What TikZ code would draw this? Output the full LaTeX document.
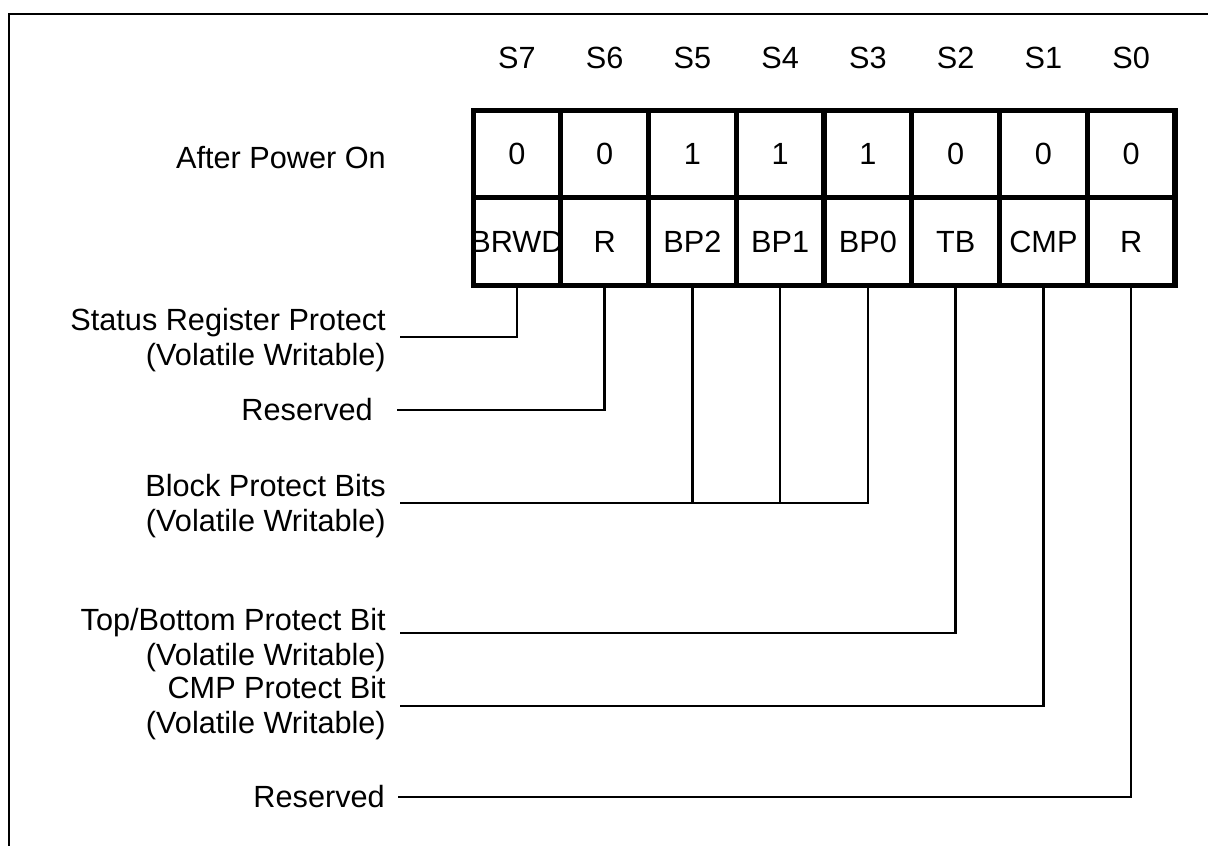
\documentclass[tikz,border=0pt]{standalone}
\usepackage{fontspec}
\setmainfont{Liberation Sans}
\usepackage{tikz}

\tikzset{
  bitcell/.style={draw, line width=3.8pt, minimum width=65.8pt, minimum height=65.8pt,
    inner sep=0pt, outer sep=0pt, font=\fontsize{23}{26}\selectfont},
  bitlabel/.style={font=\fontsize{23}{26}\selectfont, inner sep=0pt},
  desc/.style={font=\fontsize{23}{26}\selectfont, align=right, anchor=east, inner sep=0pt},
  link/.style={line width=1.9pt},
}

\begin{document}
\begin{tikzpicture}[x=0.75pt, y=-0.75pt]

\useasboundingbox (0,0) rectangle (1208,846);
\clip (0,0) rectangle (1208,846);
\draw [line width=2.2pt] (9,14) rectangle (1240,880);

% register cells
\foreach \val/\name [count=\i from 0] in {0/BRWD,0/R,1/BP2,1/BP1,1/BP0,0/TB,0/CMP,0/R} {
  \pgfmathtruncatemacro\bit{7-\i}
  \node[bitlabel] (s\bit) at ({516.9+87.75*\i},58) {S\bit};
  \node[bitcell] (v\bit) at ({516.9+87.75*\i},153.9) {\val};
  \node[bitcell] (n\bit) at ({516.9+87.75*\i},241.6) {\makebox[0pt]{\name}};
}

\node[desc] (pwr) at (386,158) {After Power On};
\node[desc] (srp) at (386,340) {Status Register Protect\\(Volatile Writable)};
\node[desc] (rsv6) at (373,410) {Reserved};
\node[desc] (bpb) at (386,506) {Block Protect Bits\\(Volatile Writable)};
\node[desc] (tbp) at (386,640) {Top/Bottom Protect Bit\\(Volatile Writable)};
\node[desc] (cmp) at (386,708) {CMP Protect Bit\\(Volatile Writable)};
\node[desc] (rsv0) at (385,797) {Reserved};

% connectors
\coordinate (c7) at (400,337);
\coordinate (c6) at (397,410);
\coordinate (c3) at (400,503);
\coordinate (c2) at (400,633);
\coordinate (c1) at (400,706);
\coordinate (c0) at (398,797);

\draw [link] (c7) -| (n7.south);
\draw [link] (c6) -| (n6.south);
\draw [link] (c3) -| (n3.south);
\draw [link] (n5.south) -- (n5.south |- c3);
\draw [link] (n4.south) -- (n4.south |- c3);
\draw [link] (c2) -| (n2.south);
\draw [link] (c1) -| (n1.south);
\draw [link] (c0) -| (n0.south);

\end{tikzpicture}
\end{document}
